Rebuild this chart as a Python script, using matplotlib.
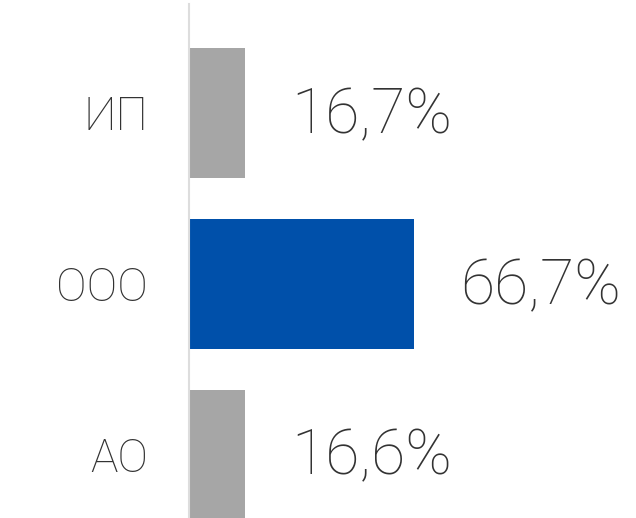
import matplotlib.pyplot as plt

# data
categories = ['АО', 'ООО', 'ИП']
values = [16.6, 66.7, 16.7]
labels = ['16,6%', '66,7%', '16,7%']
colors = ['#a6a6a6', '#0050aa', '#a6a6a6']

plt.rcParams['font.family'] = ['Roboto', 'DejaVu Sans']

fig = plt.figure(figsize=(6.36, 5.18), dpi=100)
ax = fig.add_axes([189 / 636, 0, 447 / 636, 514 / 518])

y = list(range(len(categories)))
ax.barh(y, values, height=0.76, color=colors, zorder=2)

ax.set_xlim(0, 132.5)
ax.set_ylim(-0.372, 2 + 109 / 170.75)

for yi, v, lab in zip(y, values, labels):
    ax.annotate(lab, (v, yi), xytext=(46 * 0.72, -2), textcoords='offset points',
                ha='left', va='center', fontsize=45, fontweight='light',
                color='#333333')

ax.set_yticks(y)
ax.set_yticklabels(categories, fontsize=33, fontweight='light', color='#333333')
ax.tick_params(axis='y', length=0, pad=41 * 0.72)
ax.set_xticks([])

for s in ['top', 'right', 'bottom']:
    ax.spines[s].set_visible(False)
ax.spines['left'].set_color('#dddddd')
ax.spines['left'].set_linewidth(1.5)

fig.savefig('out.png', dpi=100)
